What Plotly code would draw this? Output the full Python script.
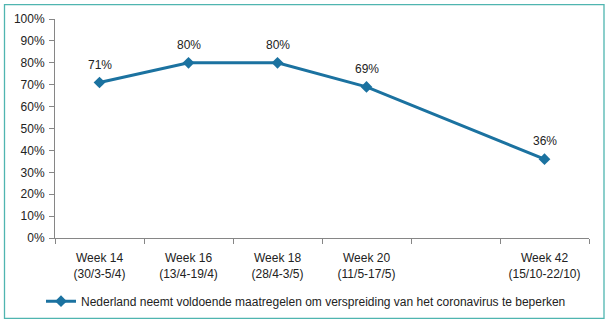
import plotly.graph_objects as go

categories = ["Week 14<br>(30/3-5/4)", "Week 16<br>(13/4-19/4)", "Week 18<br>(28/4-3/5)",
              "Week 20<br>(11/5-17/5)", " ", "Week 42<br>(15/10-22/10)"]
values = [71, 80, 80, 69, None, 36]
series_name = "Nederland neemt voldoende maatregelen om verspreiding van het coronavirus te beperken"

W, H = 609, 327
L, R, T, B = 55, 20, 19, 86
color = "#1B72A0"
font = "Liberation Sans"
fs = 12

fig = go.Figure()
fig.add_trace(go.Scatter(
    x=categories, y=values, mode="lines+markers", name=series_name,
    connectgaps=True,
    line=dict(color=color, width=3),
    marker=dict(symbol="diamond", size=9, color=color),
))

for c, v in zip(categories, values):
    if v is not None:
        fig.add_annotation(x=c, y=v, text=f"{v}%", showarrow=False, yshift=18,
                           font=dict(family=font, size=fs, color="#222"))

pw = W - L - R
ph = H - T - B
def px(x): return (x - L) / pw
def py(y): return (H - B - y) / ph
fig.add_shape(type="rect", xref="paper", yref="paper",
              x0=px(4.5), x1=px(604), y0=py(4.5), y1=py(322.5),
              line=dict(color="#4FB5B0", width=1.3), layer="below")

fig.update_layout(
    width=W, height=H, margin=dict(l=L, r=R, t=T, b=B),
    paper_bgcolor="white", plot_bgcolor="white",
    font=dict(family=font, size=fs, color="#222"),
    showlegend=True,
    legend=dict(orientation="h", x=px(306), xanchor="center", y=py(305), yanchor="middle",
                font=dict(family=font, size=fs, color="#222")),
    xaxis=dict(type="category", categoryorder="array", categoryarray=categories,
               tickson="boundaries", ticks="outside", ticklen=5, tickcolor="#868686",
               showline=True, linecolor="#868686", linewidth=1, showgrid=False,
               ticklabelstandoff=9,
               range=[-0.5, 5.5], tickfont=dict(family=font, size=fs, color="#222")),
    yaxis=dict(range=[0, 100], dtick=10, ticksuffix="%", ticks="outside", ticklen=5,
               tickcolor="#868686", showline=True, linecolor="#868686", linewidth=1,
               showgrid=False, zeroline=False, ticklabelstandoff=2,
               tickfont=dict(family=font, size=fs, color="#222")),
)

fig.write_html("out.html")
